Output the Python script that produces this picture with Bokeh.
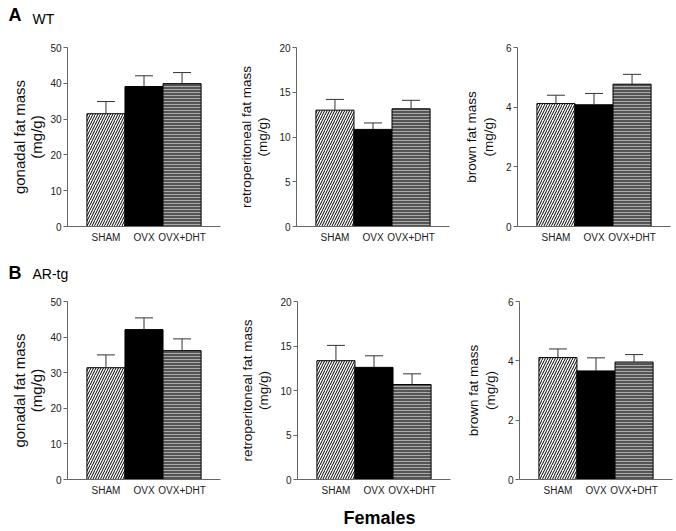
from bokeh.plotting import figure
from bokeh.models import (ColumnDataSource, FactorRange, Range1d, FixedTicker,
                          Whisker, TeeHead)
from bokeh.core.properties import value
from bokeh.layouts import column, row
from bokeh.embed import file_html
from bokeh.resources import INLINE

# ---------------- data ----------------
groups = ["SHAM", "OVX", "OVX+DHT"]

wt_gonadal = [31.5, 39.1, 39.9]
wt_gonadal_sem = [3.4, 3.0, 3.1]
wt_retro = [13.0, 10.85, 13.15]
wt_retro_sem = [1.2, 0.72, 0.95]
wt_brown = [4.12, 4.08, 4.77]
wt_brown_sem = [0.28, 0.38, 0.33]

ar_gonadal = [31.4, 42.1, 36.2]
ar_gonadal_sem = [3.6, 3.3, 3.3]
ar_retro = [13.35, 12.6, 10.67]
ar_retro_sem = [1.72, 1.3, 1.2]
ar_brown = [4.11, 3.66, 3.96]
ar_brown_sem = [0.29, 0.44, 0.25]

gonadal_ticks = [0, 10, 20, 30, 40, 50]
retro_ticks = [0, 5, 10, 15, 20]
brown_ticks = [0, 2, 4, 6]

gonadal_label = "gonadal fat mass\n(mg/g)"
retro_label = "retroperitoneal fat mass\n(mg/g)"
brown_label = "brown fat mass\n(mg/g)"

# ---------------- styling ----------------
FONT = "Liberation Sans"
AXIS_GRAY = "#666666"
fills = ["white", "black", "#555555"]
hatches = ["right_diagonal_line", " ", "horizontal_line"]
hatch_colors = ["black", "black", "#aaaaaa"]
hatch_scales = [5, 5, 3]
FRAME_W = 153


def panel(vals, sems, ticks, ylabel, lab_size, width, height, bl, bt, bb,
          standoff, lh):
    src = ColumnDataSource(dict(
        group=groups,
        val=vals,
        upper=[v + s for v, s in zip(vals, sems)],
        fill=fills,
        hatch=hatches,
        hcol=hatch_colors,
        hscale=hatch_scales,
    ))
    p = figure(x_range=FactorRange(*groups, range_padding=0.34,
                                   range_padding_units="percent"),
               y_range=Range1d(0, ticks[-1]),
               width=width, height=height, output_backend="svg",
               toolbar_location=None, min_border_left=bl,
               min_border_right=width - bl - FRAME_W, min_border_top=bt,
               min_border_bottom=bb)
    p.outline_line_color = None
    p.xgrid.visible = False
    p.ygrid.visible = False
    p.vbar(x="group", top="val", bottom=0, width=1.0, source=src,
           fill_color="fill", line_color="black", line_width=1,
           hatch_pattern="hatch", hatch_color="hcol", hatch_scale="hscale",
           hatch_weight=1.0)
    w = Whisker(source=src, base="group", lower="val", upper="upper",
                line_color="#333333", line_width=1,
                upper_head=TeeHead(size=18, line_color="#333333", line_width=1),
                lower_head=None, level="overlay")
    p.add_layout(w)

    p.yaxis.ticker = FixedTicker(ticks=ticks)
    p.yaxis.minor_tick_line_color = None
    p.yaxis.major_tick_out = 4
    p.yaxis.major_tick_in = 0
    p.yaxis.major_tick_line_color = AXIS_GRAY
    p.yaxis.major_label_standoff = 2
    p.yaxis.axis_label = ylabel
    p.yaxis.axis_label_standoff = standoff
    p.yaxis.axis_label_text_font = FONT
    p.yaxis.axis_label_text_font_style = "normal"
    p.yaxis.axis_label_text_font_size = lab_size
    p.yaxis.axis_label_text_color = "#111111"
    p.yaxis.axis_label_text_line_height = lh

    p.xaxis.major_tick_line_color = None
    p.xaxis.minor_tick_line_color = None
    p.xaxis.major_tick_out = 0
    p.xaxis.major_tick_in = 0
    p.xaxis.major_label_standoff = 5

    for ax in (p.xaxis, p.yaxis):
        ax.axis_line_color = AXIS_GRAY
        ax.major_label_text_font = FONT
        ax.major_label_text_color = "#222222"
    p.xaxis.major_label_text_font_size = "10px"
    p.yaxis.major_label_text_font_size = "10px"
    return p


def header(w, h, items):
    p = figure(width=w, height=h, output_backend="svg", toolbar_location=None,
               title=None,
               x_range=Range1d(0, w), y_range=Range1d(0, h),
               x_axis_location=None, y_axis_location=None, min_border=0)
    p.outline_line_color = None
    p.xgrid.visible = False
    p.ygrid.visible = False
    for (txt, x, y, size, style, align) in items:
        p.text(x=[x], y=[y], text=[txt], text_font=value(FONT),
               text_font_size=size, text_font_style=style, text_align=align,
               text_baseline="alphabetic", text_color="black")
    return p


h1 = header(676, 30, [("A", 8, 16, "18px", "bold", "left"),
                      ("WT", 32, 12, "14px", "normal", "left")])
r1 = row(
    panel(wt_gonadal, wt_gonadal_sem, gonadal_ticks, gonadal_label, "15px",
          230, 220, 67, 17, 24, 2, 1.0),
    panel(wt_retro, wt_retro_sem, retro_ticks, retro_label, "13.5px",
          222, 220, 66, 17, 24, 6, 1.1),
    panel(wt_brown, wt_brown_sem, brown_ticks, brown_label, "13.5px",
          224, 220, 65, 17, 24, 7, 1.1),
)
h2 = header(676, 35, [("B", 8, 13, "18px", "bold", "left"),
                      ("AR-tg", 32, 12, "14px", "normal", "left")])
r2 = row(
    panel(ar_gonadal, ar_gonadal_sem, gonadal_ticks, gonadal_label, "15px",
          230, 215, 67, 16, 21, 2, 1.0),
    panel(ar_retro, ar_retro_sem, retro_ticks, retro_label, "13.5px",
          222, 215, 67, 16, 21, 6, 1.1),
    panel(ar_brown, ar_brown_sem, brown_ticks, brown_label, "13.5px",
          224, 215, 67, 16, 21, 7, 1.1),
)
foot = header(676, 30, [("Females", 379, 13, "18px", "bold", "center")])

layout = column(h1, r1, h2, r2, foot)

with open("out.html", "w") as f:
    f.write(file_html(layout, INLINE))
